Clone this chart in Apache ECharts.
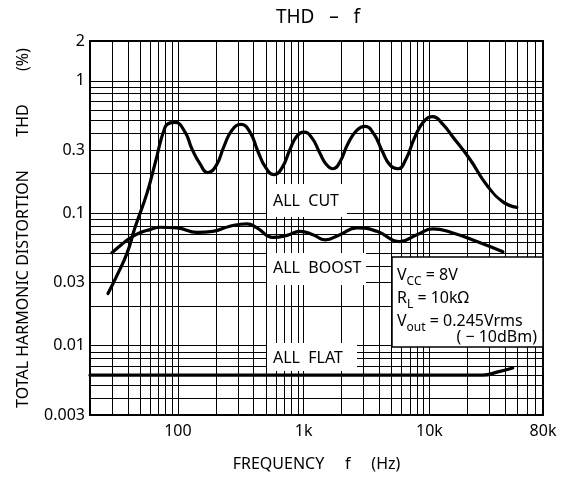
<!DOCTYPE html>
<html><head><meta charset="utf-8">
<script src="https://cdn.jsdelivr.net/npm/echarts@6/dist/echarts.min.js"></script>
<style>html,body{margin:0;padding:0;background:#fff}#c{width:562px;height:478px}</style>
</head><body><div id="c"></div>
<script>
const FONT = '"Noto Sans", "DejaVu Sans", sans-serif';

const allCutFreq = [27.8, 32.8, 39.4, 45.6, 56.8, 65.7, 79, 87, 94.8, 114, 129, 150, 173, 201, 232, 269, 317, 374, 433, 501, 580, 672, 778, 884, 1005, 1163, 1347, 1504, 1709, 1942, 2248, 2652, 3070, 3620, 4190, 4850, 5614, 6500, 7666, 9038, 10660, 12800, 15360, 20980, 28640, 38380, 49600];
const allCutThd = [0.0248, 0.034, 0.050, 0.078, 0.142, 0.236, 0.446, 0.482, 0.486, 0.41, 0.308, 0.236, 0.203, 0.228, 0.319, 0.424, 0.469, 0.41, 0.293, 0.22, 0.196, 0.22, 0.303, 0.384, 0.41, 0.371, 0.284, 0.236, 0.217, 0.244, 0.335, 0.424, 0.454, 0.397, 0.298, 0.232, 0.217, 0.256, 0.377, 0.494, 0.537, 0.469, 0.377, 0.256, 0.163, 0.122, 0.111];

const allBoostFreq = [29.9, 35.3, 41.6, 49.9, 60, 72, 98.3, 142, 190, 259, 354, 425, 570, 736, 934, 1185, 1476, 1942, 2652, 3822, 5824, 7950, 10660, 15360, 23840, 38380];
const allBoostThd = [0.0504, 0.0577, 0.065, 0.0714, 0.0753, 0.0785, 0.0776, 0.0718, 0.0731, 0.0799, 0.0833, 0.0776, 0.0657, 0.0681, 0.0731, 0.069, 0.0631, 0.069, 0.0776, 0.0731, 0.0612, 0.069, 0.0763, 0.0710, 0.0612, 0.0513];

const allFlatFreq = [20, 26600, 35000, 46000];
const allFlatThd = [0.006, 0.006, 0.00635, 0.0068];

const xGridValues = [20, 30, 40, 50, 60, 70, 80, 90, 100, 200, 300, 400, 500, 600, 700, 800, 900, 1000, 2000, 3000, 4000, 5000, 6000, 7000, 8000, 9000, 10000, 20000, 30000, 40000, 50000, 60000, 70000, 80000];
const yGridValues = [0.003, 0.004, 0.005, 0.006, 0.007, 0.008, 0.009, 0.01, 0.02, 0.03, 0.04, 0.05, 0.06, 0.07, 0.08, 0.09, 0.1, 0.2, 0.3, 0.4, 0.5, 0.6, 0.7, 0.8, 0.9, 1, 2];

const xTickValues = [100, 1000, 10000, 80000];
const xTickLabels = ['100', '1k', '10k', '80k'];
const yTickValues = [0.003, 0.01, 0.03, 0.1, 0.3, 1, 2];
const yTickLabels = ['0.003', '0.01', '0.03', '0.1', '0.3', '1', '2'];

function zip(a, b) { return a.map((v, i) => [v, b[i]]); }
function lookup(vals, labels) {
  return function (v) {
    for (let i = 0; i < vals.length; i++) {
      if (Math.abs(v - vals[i]) / vals[i] < 1e-6) return labels[i];
    }
    return '';
  };
}

const chart = echarts.init(document.getElementById('c'), null, { renderer: 'canvas' });
const lineStyle = { color: '#000', width: 3.2, cap: 'round', join: 'round' };
const seriesCommon = { type: 'line', showSymbol: false, symbol: 'none', smooth: 0.5, silent: true, z: 3 };
const txt = { fontFamily: FONT, color: '#000' };
const rich = {
  m: { fontFamily: FONT, fontSize: 16, lineHeight: 20, verticalAlign: 'middle' },
  s: { fontFamily: FONT, fontSize: 12, lineHeight: 26, verticalAlign: 'bottom' }
};

chart.setOption({
  animation: false,
  backgroundColor: '#fff',
  title: {
    text: 'THD   –   f', left: 313, top: 3, textAlign: 'center',
    textStyle: { fontFamily: FONT, fontSize: 19, fontWeight: 'normal', color: '#000' }
  },
  grid: { left: 90, right: 19, top: 41, bottom: 63, containLabel: false, show: true, borderColor: '#000', borderWidth: 2, backgroundColor: 'transparent' },
  xAxis: {
    type: 'log', logBase: 10, min: 20, max: 80000,
    name: 'FREQUENCY     f     (Hz)', nameLocation: 'middle', nameGap: 41,
    nameTextStyle: Object.assign({ fontSize: 16 }, txt),
    axisLine: { show: true, lineStyle: { color: '#000', width: 2 } },
    axisTick: { show: false, customValues: xGridValues },
    splitLine: { show: true, lineStyle: { color: '#000', width: 1 } },
    axisLabel: Object.assign({ customValues: xTickValues, formatter: lookup(xTickValues, xTickLabels), fontSize: 16, margin: 8, showMinLabel: true, showMaxLabel: true }, txt)
  },
  yAxis: {
    type: 'log', logBase: 10, min: 0.003, max: 2,
    name: 'TOTAL HARMONIC DISTORTION        THD        (%)', nameLocation: 'middle', nameGap: 59, nameRotate: 90,
    nameTextStyle: Object.assign({ fontSize: 16 }, txt),
    axisLine: { show: true, lineStyle: { color: '#000', width: 2 } },
    axisTick: { show: false, customValues: yGridValues },
    splitLine: { show: true, lineStyle: { color: '#000', width: 1 } },
    axisLabel: Object.assign({ customValues: yTickValues, formatter: lookup(yTickValues, yTickLabels), fontSize: 16, margin: 5, showMinLabel: true, showMaxLabel: true }, txt)
  },
  series: [
    Object.assign({ name: 'ALL CUT', data: zip(allCutFreq, allCutThd), lineStyle }, seriesCommon),
    Object.assign({ name: 'ALL BOOST', data: zip(allBoostFreq, allBoostThd), lineStyle }, seriesCommon),
    Object.assign({ name: 'ALL FLAT', data: zip(allFlatFreq, allFlatThd), lineStyle }, seriesCommon)
  ],
  graphic: [
    { type: 'rect', z: 100, shape: { x: 267, y: 184, width: 80, height: 33 }, style: { fill: '#fff' } },
    { type: 'text', z: 101, x: 273, y: 201, style: { text: 'ALL  CUT', fontFamily: FONT, fontSize: 16, fill: '#000', verticalAlign: 'middle' } },
    { type: 'rect', z: 100, shape: { x: 267, y: 253, width: 99, height: 32 }, style: { fill: '#fff' } },
    { type: 'text', z: 101, x: 273, y: 268, style: { text: 'ALL  BOOST', fontFamily: FONT, fontSize: 16, fill: '#000', verticalAlign: 'middle' } },
    { type: 'rect', z: 100, shape: { x: 267, y: 343, width: 90, height: 28 }, style: { fill: '#fff' } },
    { type: 'text', z: 101, x: 273, y: 358, style: { text: 'ALL  FLAT', fontFamily: FONT, fontSize: 16, fill: '#000', verticalAlign: 'middle' } },
    { type: 'rect', z: 100, shape: { x: 392, y: 257, width: 151, height: 90 }, style: { fill: '#fff', stroke: '#000', lineWidth: 1.5 } },
    { type: 'text', z: 101, x: 397, y: 262, style: { text: '{m|V}{s|CC}{m| = 8V}', fill: '#000', rich } },
    { type: 'text', z: 101, x: 397, y: 285, style: { text: '{m|R}{s|L}{m| = 10kΩ}', fill: '#000', rich } },
    { type: 'text', z: 101, x: 397, y: 308, style: { text: '{m|V}{s|out}{m| = 0.245Vrms}', fill: '#000', rich } },
    { type: 'text', z: 101, x: 537, y: 337, style: { text: '( − 10dBm)', fontFamily: FONT, fontSize: 16, fill: '#000', align: 'right', verticalAlign: 'middle' } }
  ]
});
</script></body></html>
